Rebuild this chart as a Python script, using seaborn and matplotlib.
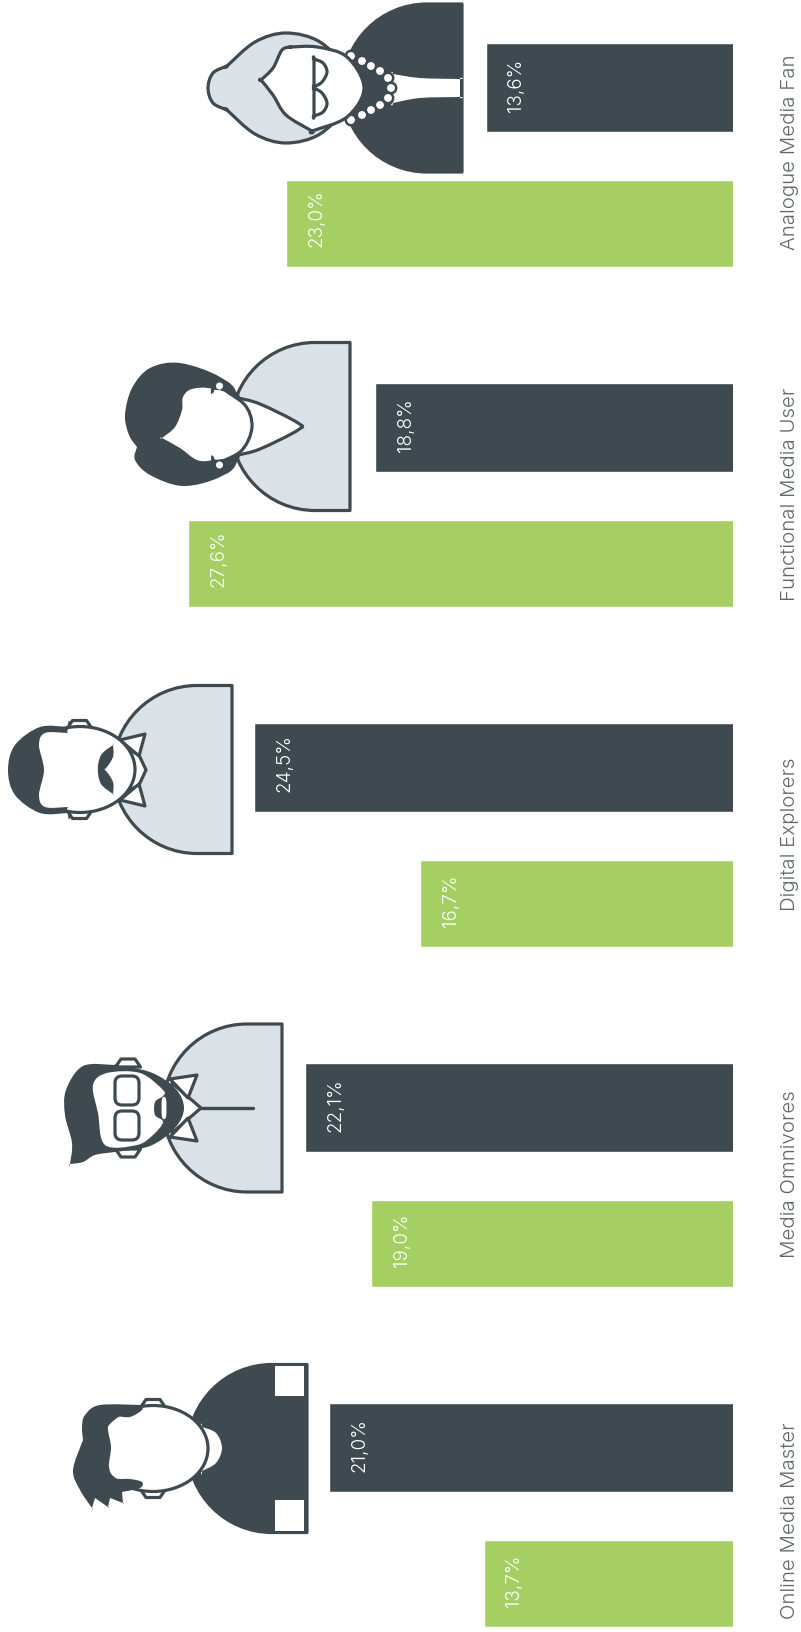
import pandas as pd
import seaborn as sns
import matplotlib.pyplot as plt
from matplotlib.path import Path
from matplotlib.patches import PathPatch, Ellipse, Circle, FancyBboxPatch, Rectangle
from matplotlib.transforms import ScaledTranslation

# -------------------------
# Data
# -------------------------
segments = ['Analogue Media Fan', 'Functional Media User', 'Digital Explorers',
            'Media Omnivores', 'Online Media Master']
dark_values = [13.6, 18.8, 24.5, 22.1, 21.0]
green_values = [23.0, 27.6, 16.7, 19.0, 13.7]

DARK = '#3F4A50'
GREEN = '#A5CF63'
LIGHT = '#DAE2E8'
GREY = '#5F676B'
LW = 2.3

sns.set_theme(style='white')
plt.rcParams['font.family'] = ['Inter', 'DejaVu Sans']

df = pd.DataFrame({
    'segment': segments * 2,
    'share': dark_values + green_values,
    'series': ['dark'] * 5 + ['green'] * 5,
})

fig = plt.figure(figsize=(8.01, 16.32), dpi=100)

# -------------------------
# Bars (value axis grows to the left and does not start at zero)
# -------------------------
ax = fig.add_axes([0, 0, 732.7 / 801, 1])
sns.barplot(data=df, y='segment', x='share', hue='series', order=segments,
            hue_order=['dark', 'green'], palette={'dark': DARK, 'green': GREEN},
            width=0.8, gap=0.36, saturation=1, legend=False, ax=ax)
ax.set_xlim(36.46, 1.994)
ax.set_ylim(4.342, -0.458)
ax.set_xlabel('')
ax.set_ylabel('')
ax.set_xticks([])
sns.despine(ax=ax, left=True, bottom=True)

ax.yaxis.tick_right()
ax.tick_params(axis='y', length=0, pad=34.5)
# labels do not sit exactly on the bar groups, nudge in pixels (down = positive)
nudges = [3, 1.5, 1, 1.5, -5]
for lab, nudge in zip(ax.get_yticklabels(), nudges):
    lab.set_rotation(90)
    lab.set_va('center')
    lab.set_ha('left')
    lab.set_fontsize(14.7)
    lab.set_fontweight(300)
    lab.set_color(GREY)
    lab.set_transform(lab.get_transform() + ScaledTranslation(0, nudge / 100, fig.dpi_scale_trans))

# dark bars are a touch taller than the green ones
for bar in ax.containers[0]:
    bar.set_y(bar.get_y() - 1 / 340)
    bar.set_height(bar.get_height() + 2 / 340)

for container in ax.containers:
    for bar in container:
        val = bar.get_width()
        ax.annotate(f'{val:.1f}%'.replace('.', ','),
                    xy=(val, bar.get_y() + bar.get_height()),
                    xytext=(30.5 * 0.72, 20 * 0.72), textcoords='offset points',
                    rotation=90, ha='center', va='bottom',
                    color='white', fontsize=13.6, fontweight=300)

# -------------------------
# People drawn on a pixel-sized overlay
# -------------------------
art = fig.add_axes([0, 0, 1, 1], zorder=3)
art.set_xlim(0, 801)
art.set_ylim(1632, 0)
art.axis('off')


def smooth(points):
    # closed Catmull-Rom outline, a repeated point makes a sharp corner
    n = len(points)
    verts = [points[0]]
    codes = [Path.MOVETO]
    for i in range(n):
        p0, p1, p2, p3 = points[i - 1], points[i], points[(i + 1) % n], points[(i + 2) % n]
        verts.append((p1[0] + (p2[0] - p0[0]) / 6, p1[1] + (p2[1] - p0[1]) / 6))
        verts.append((p2[0] - (p3[0] - p1[0]) / 6, p2[1] - (p3[1] - p1[1]) / 6))
        verts.append(p2)
        codes += [Path.CURVE4] * 3
    return Path(verts, codes)


def blob(points, face, edge='none', lw=LW):
    art.add_patch(PathPatch(smooth(points), facecolor=face, edgecolor=edge, lw=lw, joinstyle='round'))


def poly(points, face, edge=DARK, lw=LW):
    art.add_patch(plt.Polygon(points, closed=True, facecolor=face, edgecolor=edge, lw=lw, joinstyle='round'))


def body(right, cy, face):
    r, k = 84, 84 * 0.5523
    cx = right - 35
    verts = [(right, cy - r), (cx, cy - r), (cx - k, cy - r), (cx - r, cy - k), (cx - r, cy),
             (cx - r, cy + k), (cx - k, cy + r), (cx, cy + r), (right, cy + r), (right, cy - r)]
    codes = [Path.MOVETO, Path.LINETO] + [Path.CURVE4] * 6 + [Path.LINETO, Path.CLOSEPOLY]
    art.add_patch(PathPatch(Path(verts, codes), facecolor=face, edgecolor=DARK, lw=LW, joinstyle='round'))


def head(cx, cy, a=55, b=43):
    art.add_patch(Ellipse((cx, cy), 2 * a, 2 * b, facecolor='white', edgecolor=DARK, lw=LW))


def ears(cx, cy):
    for sign in (-1, 1):
        poly([(cx - 12.5, cy + sign * 41), (cx - 7, cy + sign * 49), (cx + 7, cy + sign * 49),
              (cx + 12.5, cy + sign * 41)], 'white')


def mirrored(points, cy):
    return [(x, 2 * cy - y) for x, y in points]


# Analogue Media Fan
body(462, 88, DARK)
blob([(393, 74), (393, 74), (420, 78), (460, 79), (460, 79), (460, 97), (460, 97), (420, 98), (393, 103), (393, 103)], 'white')
blob([(208, 88), (213, 73), (227, 66), (227, 66), (255, 42), (286, 33), (320, 42), (345, 70), (345, 106), (320, 134),
      (286, 143), (255, 134), (227, 110), (227, 110), (213, 103)], LIGHT, DARK)
for x, y in [(351, 56), (362, 61), (371, 66), (380, 71), (388, 78), (391, 88), (388, 98), (380, 105), (371, 110),
             (362, 115), (351, 120)]:
    art.add_patch(Circle((x, y), 5.2, facecolor='white', edgecolor=DARK, lw=1.8))
blob([(261, 80), (261, 80), (273, 68), (282, 50), (291, 47), (291, 47), (317, 47), (347, 57), (364, 88), (347, 117),
      (312, 131), (312, 131), (286, 115), (273, 95)], 'white', DARK)
lens = [(314, 59), (314, 59), (323, 63), (327, 72), (322, 82), (314, 87), (314, 87)]
blob(lens, 'white', DARK)
blob(mirrored(lens, 87.5), 'white', DARK)

# Functional Media User
body(350, 426.5, LIGHT)
blob([(238, 398), (238, 398), (260, 404), (298, 423), (298, 430), (260, 449), (238, 455), (238, 455)], 'white', DARK)
blob([(180, 363), (150, 368), (132, 388), (125, 415), (129, 435), (137, 447), (137, 447), (135, 460), (150, 475),
      (183, 486), (220, 477), (238, 458), (238, 398), (220, 377)], DARK)
blob([(183, 397), (192, 389), (213, 389), (243, 403), (252, 427), (240, 452), (213, 460), (197, 460), (180, 448),
      (162, 438), (162, 438), (175, 427), (182, 410)], 'white')
blob([(213, 389), (243, 403), (252, 427), (240, 452), (213, 460), (222, 427)], 'white', DARK)
blob([(216, 391), (238, 405), (247, 427), (236, 450), (216, 458), (190, 427)], 'white')
for y in (386, 465):
    art.add_patch(Circle((219.5, y), 3.5, facecolor='white', edgecolor='none'))

# Digital Explorers
body(232, 769.5, LIGHT)
poly([(130, 750), (139, 755), (146, 770), (139, 785), (130, 790)], 'white')
poly([(120, 740), (145, 734), (139, 756)], 'white')
poly([(120, 800), (145, 806), (139, 784)], 'white')
ears(79.5, 769.5)
head(80, 769.5)
blob([(68, 727), (68, 727), (40, 727), (15, 745), (8, 770), (15, 795), (40, 813), (68, 813), (68, 813)], DARK)
blob([(68, 733), (68, 733), (45, 733), (39, 745), (44, 770), (39, 795), (45, 807), (68, 807), (68, 807), (90, 770)], 'white')
leaf = [(113, 745), (113, 745), (113, 757), (105, 769), (98, 770), (101, 755)]
blob(leaf, DARK)
blob(mirrored(leaf, 769.5), DARK)

# Media Omnivores
body(282, 1108, LIGHT)
art.plot([201, 253], [1108, 1108], color=DARK, lw=2.4, solid_capstyle='round')
poly([(172, 1083), (201, 1108), (172, 1133)], 'white')
poly([(170, 1079), (197, 1075), (188, 1098)], 'white')
poly([(170, 1137), (197, 1141), (188, 1118)], 'white')
ears(128, 1108)
blob([(115, 1065), (115, 1065), (83, 1066), (66, 1090), (65, 1115), (72, 1143), (70, 1164), (70, 1164), (83, 1162),
      (95, 1155), (115, 1152), (115, 1152), (150, 1146), (175, 1128), (184, 1108), (175, 1088), (150, 1072)], DARK)
blob([(93, 1085), (107, 1073), (140, 1073), (163, 1090), (163, 1096), (155, 1102), (155, 1115), (163, 1122), (153, 1135),
      (137, 1145), (105, 1145), (98, 1113)], 'white')
blob([(162, 1099), (166, 1099), (166, 1117), (162, 1117)], 'white')
for y0, y1 in [(1076, 1105), (1111, 1140)]:
    art.add_patch(FancyBboxPatch((120, y0 + 5), 14, y1 - y0 - 10, boxstyle='round,pad=5,rounding_size=7',
                                 facecolor='white', edgecolor=DARK, lw=LW))

# Online Media Master
body(307, 1448.5, DARK)
for y0, y1 in [(1366, 1396), (1500, 1531)]:
    art.add_patch(Rectangle((275, y0), 29, y1 - y0, facecolor='white', edgecolor='none'))
blob([(202, 1427), (202, 1427), (216, 1433), (222, 1448), (216, 1463), (202, 1471), (202, 1471)], 'white')
ears(153, 1448.5)
head(153, 1448.5)
blob([(142, 1405), (142, 1405), (100, 1405), (85, 1415), (82, 1427), (83, 1440), (83, 1440), (73, 1470), (80, 1490),
      (92, 1508), (92, 1508), (95, 1498), (95, 1498), (108, 1507), (108, 1507), (110, 1498), (110, 1498), (123, 1503),
      (123, 1503), (122, 1492), (122, 1492), (140, 1488), (142, 1482), (130, 1479), (115, 1478), (109, 1467), (111, 1447),
      (108, 1427), (115, 1417), (130, 1417), (142, 1410)], DARK)

fig.savefig('out.png', dpi=100)
